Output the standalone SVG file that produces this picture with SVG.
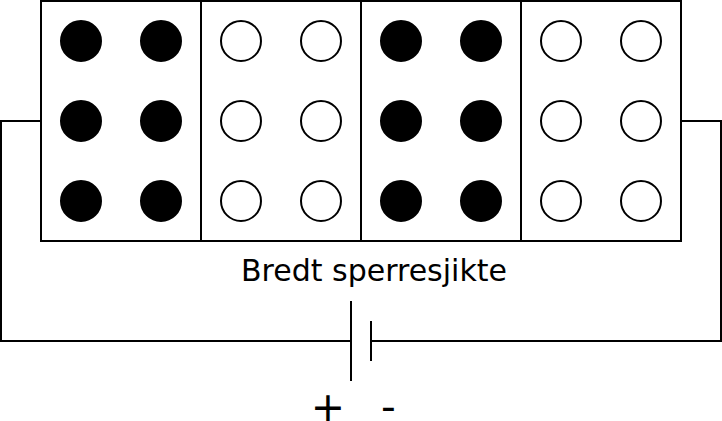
<svg xmlns="http://www.w3.org/2000/svg" width="722" height="421" viewBox="0 0 722 421">
<style>
.l{fill:none;stroke:#000;stroke-width:2}
.f{fill:#000;stroke:#000;stroke-width:2}
.h{fill:#fff;stroke:#000;stroke-width:2}
text{font-family:"DejaVu Sans",sans-serif;fill:#000}
</style>
<rect width="722" height="421" fill="#fff"/>
<g id="connectors">
<path class="l" d="M41 121H1V341H351M371 341H721V121H681"/>
<path class="l" d="M351 301V381M371 321V361"/>
</g>
<g id="block-1"><rect class="h" x="41" y="1" width="160" height="240"/>
<circle class="f" cx="81" cy="41" r="20"/><circle class="f" cx="161" cy="41" r="20"/><circle class="f" cx="81" cy="121" r="20"/><circle class="f" cx="161" cy="121" r="20"/><circle class="f" cx="81" cy="201" r="20"/><circle class="f" cx="161" cy="201" r="20"/></g>
<g id="block-2"><rect class="h" x="201" y="1" width="160" height="240"/>
<circle class="h" cx="241" cy="41" r="20"/><circle class="h" cx="321" cy="41" r="20"/><circle class="h" cx="241" cy="121" r="20"/><circle class="h" cx="321" cy="121" r="20"/><circle class="h" cx="241" cy="201" r="20"/><circle class="h" cx="321" cy="201" r="20"/></g>
<g id="block-3"><rect class="h" x="361" y="1" width="160" height="240"/>
<circle class="f" cx="401" cy="41" r="20"/><circle class="f" cx="481" cy="41" r="20"/><circle class="f" cx="401" cy="121" r="20"/><circle class="f" cx="481" cy="121" r="20"/><circle class="f" cx="401" cy="201" r="20"/><circle class="f" cx="481" cy="201" r="20"/></g>
<g id="block-4"><rect class="h" x="521" y="1" width="160" height="240"/>
<circle class="h" cx="561" cy="41" r="20"/><circle class="h" cx="641" cy="41" r="20"/><circle class="h" cx="561" cy="121" r="20"/><circle class="h" cx="641" cy="121" r="20"/><circle class="h" cx="561" cy="201" r="20"/><circle class="h" cx="641" cy="201" r="20"/></g>
<g id="labels">
<text x="374" y="281" font-size="30" text-anchor="middle">Bredt sperresjikte</text>
<text x="328" y="421" font-size="41" text-anchor="middle">+</text>
<text x="388.500" y="421" font-size="41" text-anchor="middle">-</text>
</g>
</svg>
